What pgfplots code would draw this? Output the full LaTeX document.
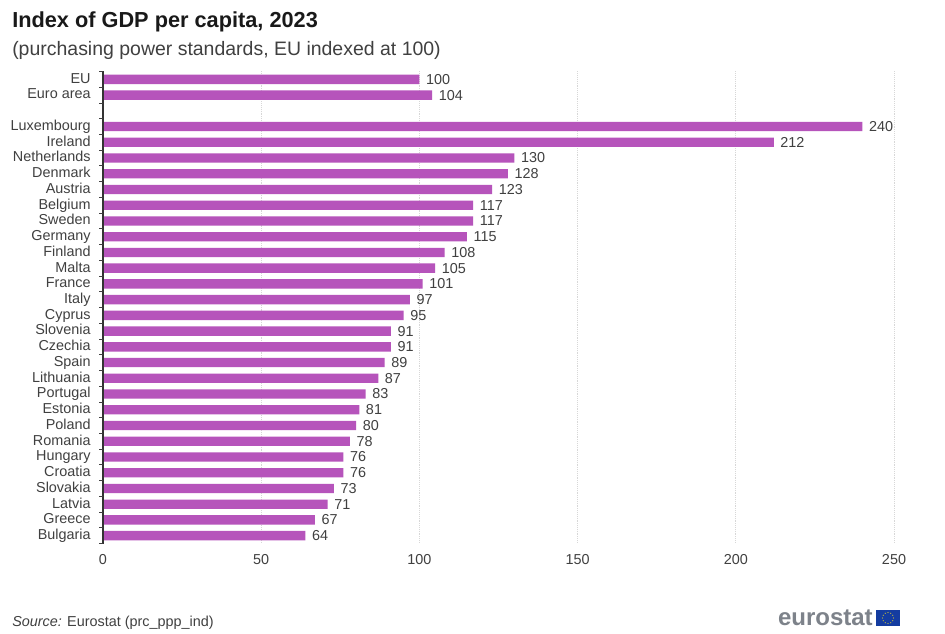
\documentclass[border=0pt]{standalone}
\usepackage{fontspec}
\setmainfont{Liberation Sans}
\usepackage{pgfplots}
\pgfplotsset{compat=1.18}
\definecolor{barcol}{RGB}{182,84,187}
\definecolor{txtcol}{RGB}{64,64,64}
\definecolor{gridcol}{RGB}{215,215,215}
\definecolor{logogray}{RGB}{125,130,138}
\definecolor{flagblue}{RGB}{20,60,160}
\definecolor{flagstar}{RGB}{200,190,60}
\begin{document}
\begin{tikzpicture}[x=0.75pt,y=0.75pt]
\path[use as bounding box,fill=white] (0,0) rectangle (945,634);
\begin{axis}[
at={(77.25pt,67.875pt)},anchor=south west,
scale only axis,
width=593.25pt,height=354pt,
xmin=0,xmax=250,
ymin=-0.5,ymax=29.5,
y dir=reverse,
axis line style={draw=none},
xtick={0,50,100,150,200,250},
xmajorgrids,
grid style={gridcol,densely dotted,line width=0.6pt},
xtick style={draw=none},
ytick={0,...,29},
yticklabels={EU,Euro area,,Luxembourg,Ireland,Netherlands,Denmark,Austria,Belgium,Sweden,Germany,Finland,Malta,France,Italy,Cyprus,Slovenia,Czechia,Spain,Lithuania,Portugal,Estonia,Poland,Romania,Hungary,Croatia,Slovakia,Latvia,Greece,Bulgaria},
ytick style={draw=none},
typeset ticklabels with strut,
tick label style={font=\fontsize{10.8}{12}\selectfont,text=txtcol},
/pgf/number format/assume math mode=true,
yticklabel style={xshift=-1.5pt,yshift=-0.5pt},
xticklabel style={yshift=-4pt},
xbar,
bar width=7pt,
bar shift=0pt,
nodes near coords,
nodes near coords style={font=\fontsize{10.8}{12}\selectfont,text=txtcol,xshift=1.5pt,text height=1.6ex,text depth=0.2ex},
clip=false,
]
\addplot[fill=barcol,draw=none] table {
100 0
104 1
240 3
212 4
130 5
128 6
123 7
117 8
117 9
115 10
108 11
105 12
101 13
97 14
95 15
91 16
91 17
89 18
87 19
83 20
81 21
80 22
78 23
76 24
76 25
73 26
71 27
67 28
64 29
};
\draw[black!80,line width=0.8pt] (axis cs:0,-0.5) -- (axis cs:0,29.5);
\foreach \v in {-0.5,0.5,...,29.5}{
  \edef\tmp{\noexpand\draw[txtcol,line width=0.6pt] (axis cs:0,\v) -- ([xshift=-3pt]axis cs:0,\v);}
  \tmp
}
\end{axis}
\node[anchor=base west,inner sep=0,font=\bfseries\fontsize{16.3}{18}\selectfont,text=black!90] at (12,606) {Index of GDP per capita, 2023};
\node[anchor=base west,inner sep=0,font=\fontsize{14.6}{16}\selectfont,text=txtcol] at (12,578) {(purchasing power standards, EU indexed at 100)};
\node[anchor=base west,inner sep=0,font=\fontsize{10.8}{12}\selectfont,text=txtcol] at (12,7.5) {\textit{Source:} Eurostat (prc\_ppp\_ind)};
\node[anchor=base east,inner sep=0,font=\bfseries\fontsize{18}{20}\selectfont,text=logogray] at (873,8) {eurostat};
\fill[flagblue] (876,8) rectangle (900,24);
\foreach \a in {0,30,...,330}{
  \fill[flagstar] ({888+5.5*cos(\a)},{16+5.5*sin(\a)}) circle (0.7);
}
\end{tikzpicture}
\end{document}
